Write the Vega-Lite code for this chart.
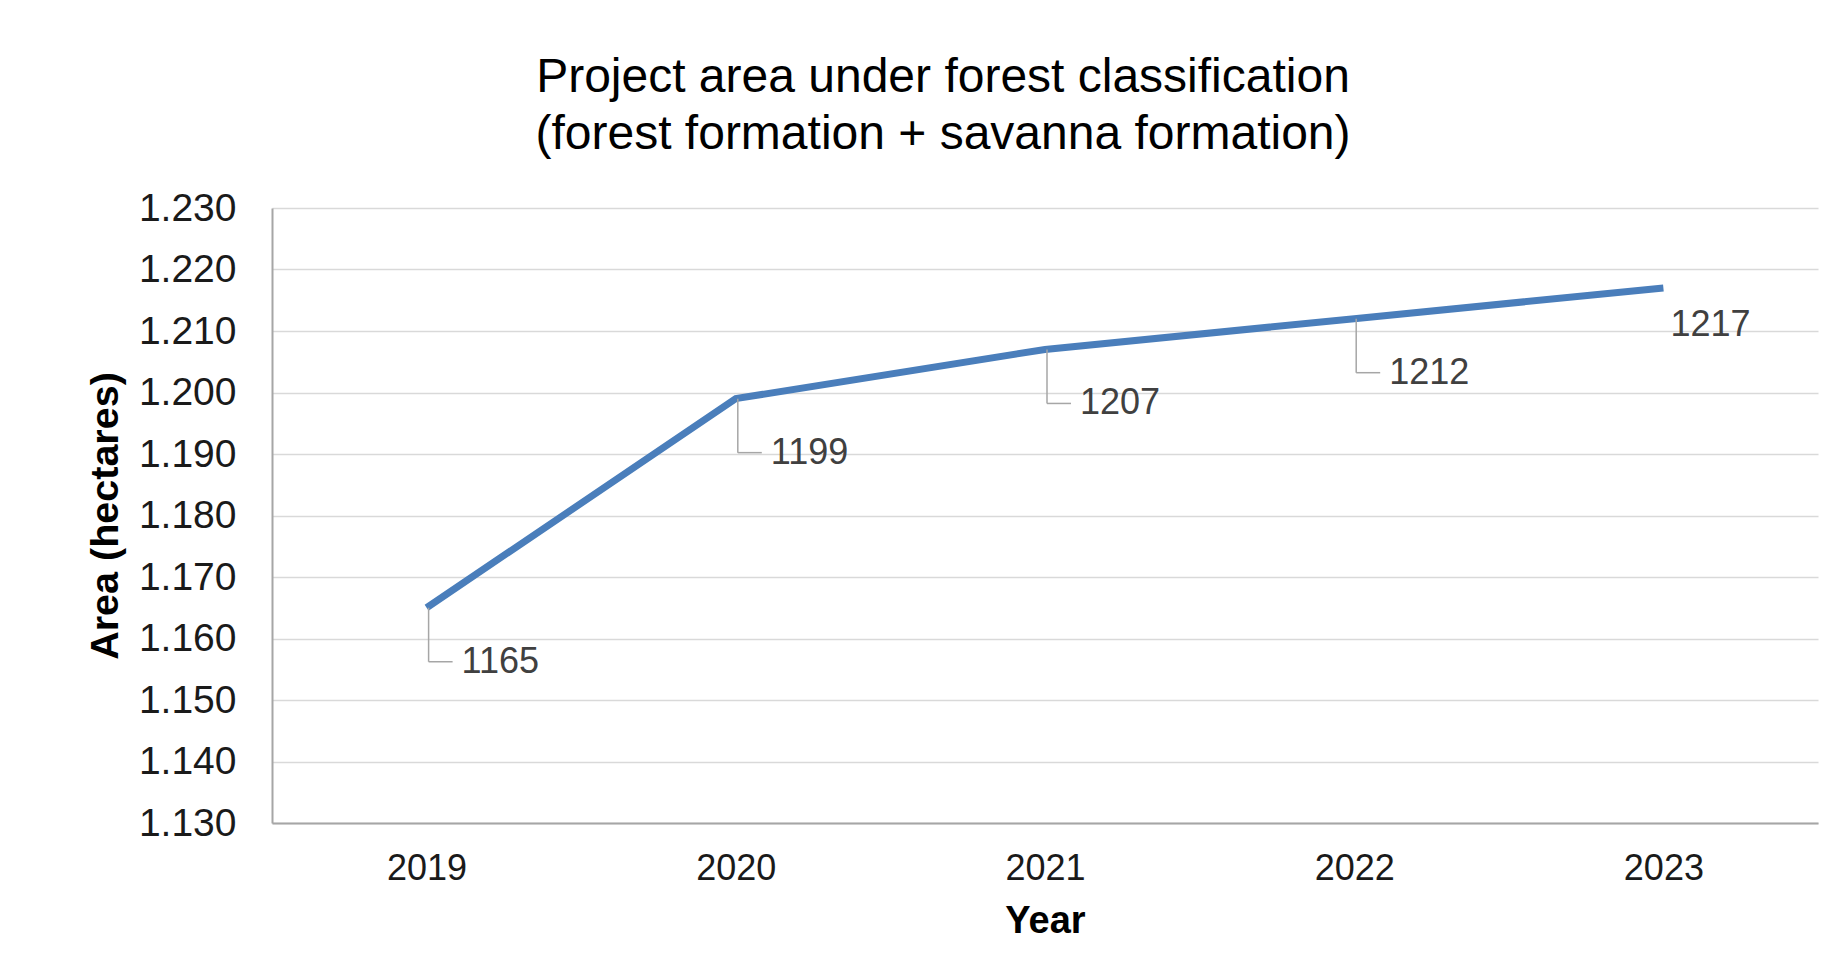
{
  "$schema": "https://vega.github.io/schema/vega-lite/v6.json",
  "autosize": "none",
  "width": 1546,
  "height": 615,
  "padding": {"left": 272, "top": 208, "right": 15, "bottom": 133},
  "background": "white",
  "config": {
    "view": {"stroke": null},
    "font": "Liberation Sans"
  },
  "title": {
    "text": ["Project area under forest classification", "(forest formation + savanna formation)"],
    "fontSize": 48,
    "fontWeight": "normal",
    "font": "Liberation Sans",
    "color": "#000000",
    "lineHeight": 57,
    "anchor": "middle",
    "dx": -102,
    "offset": 30
  },
  "data": {
    "values": [
      {"Year": 2019, "Area": 1165},
      {"Year": 2020, "Area": 1199},
      {"Year": 2021, "Area": 1207},
      {"Year": 2022, "Area": 1212},
      {"Year": 2023, "Area": 1217}
    ]
  },
  "encoding": {
    "x": {
      "field": "Year",
      "type": "ordinal",
      "scale": {"type": "point", "padding": 0.5},
      "axis": {
        "title": "Year",
        "titleFontSize": 38,
        "titleFontWeight": "bold",
        "titleColor": "#000000",
        "titlePadding": 16,
        "labelAngle": 0,
        "labelFontSize": 36,
        "labelColor": "#1a1a1a",
        "labelPadding": 28,
        "ticks": false,
        "domain": true,
        "domainColor": "#a6a6a6",
        "domainWidth": 2,
        "grid": false
      }
    },
    "y": {
      "field": "Area",
      "type": "quantitative",
      "scale": {"domain": [1130, 1230], "nice": false, "zero": false},
      "axis": {
        "title": "Area (hectares)",
        "titleFontSize": 39.5,
        "titleFontWeight": "bold",
        "titleColor": "#000000",
        "titlePadding": 13,
        "values": [1130, 1140, 1150, 1160, 1170, 1180, 1190, 1200, 1210, 1220, 1230],
        "labelExpr": "replace(format(datum.value, ','), ',', '.')",
        "labelFontSize": 39,
        "labelColor": "#1a1a1a",
        "labelPadding": 36,
        "ticks": false,
        "domain": true,
        "domainColor": "#a6a6a6",
        "domainWidth": 2,
        "grid": true,
        "gridColor": "#d9d9d9",
        "gridWidth": 1.5
      }
    }
  },
  "layer": [
    {
      "mark": {"type": "line", "color": "#4a7ebb", "strokeWidth": 7, "strokeCap": "butt"}
    },
    {
      "transform": [{"filter": "datum.Year != 2023"}],
      "mark": {"type": "rule", "color": "#a6a6a6", "strokeWidth": 1.5, "xOffset": 2, "x2Offset": 2, "y2Offset": 54},
      "encoding": {"y2": {"field": "Area"}}
    },
    {
      "transform": [{"filter": "datum.Year != 2023"}],
      "mark": {"type": "rule", "color": "#a6a6a6", "strokeWidth": 1.5, "xOffset": 2, "x2Offset": 26, "yOffset": 54, "y2Offset": 54},
      "encoding": {"x2": {"field": "Year"}}
    },
    {
      "transform": [{"filter": "datum.Year != 2023"}],
      "mark": {"type": "text", "align": "left", "baseline": "middle", "dx": 35, "dy": 54, "fontSize": 36, "color": "#404040"},
      "encoding": {"text": {"field": "Area", "type": "quantitative", "format": "d"}}
    },
    {
      "transform": [{"filter": "datum.Year == 2023"}],
      "mark": {"type": "text", "align": "left", "baseline": "middle", "dx": 7, "dy": 37, "fontSize": 36, "color": "#404040"},
      "encoding": {"text": {"field": "Area", "type": "quantitative", "format": "d"}}
    }
  ]
}
